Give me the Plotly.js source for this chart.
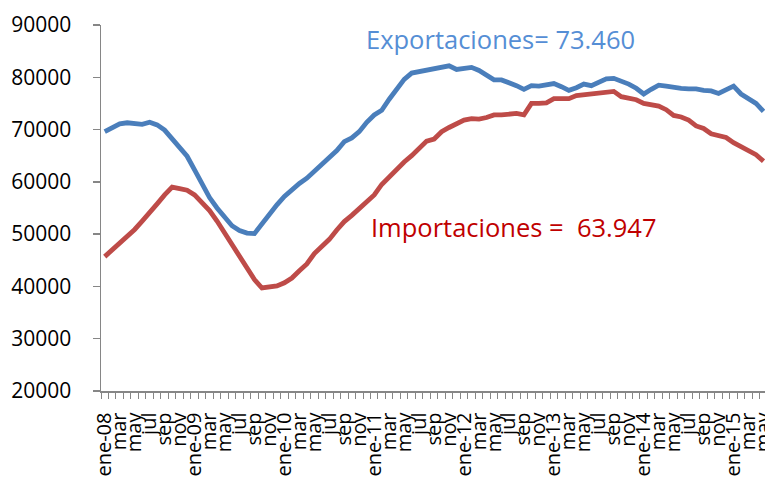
<!DOCTYPE html>
<html>
<head>
<meta charset="utf-8">
<script src="https://cdn.plot.ly/plotly-3.0.1.min.js"></script>
<style>
  html, body { margin: 0; padding: 0; background: #ffffff; }
  #chart { width: 765px; height: 480px; }
</style>
</head>
<body>
<div id="chart"></div>
<script>
// Months: ene-08 .. may-15 (monthly)
const monthNames = ["ene","feb","mar","abr","may","jun","jul","ago","sep","oct","nov","dic"];
const years = ["08","09","10","11","12","13","14","15"];
const months = [];
for (let y = 0; y < years.length; y++) {
  for (let m = 0; m < 12; m++) {
    if (y === years.length - 1 && m > 4) break;
    months.push(m === 0 ? monthNames[m] + "-" + years[y] : monthNames[m]);
  }
}

const exportaciones = [
  69600, 70400, 71100, 71300, 71200, 71000, 71400, 70900, 69900, 68300,
  66500, 64900, 62300, 59400, 57000, 55000, 53200, 51600, 50700, 50200,
  50100, 52000, 54000, 55600, 57200, 58500, 59700, 60700, 62000, 63200,
  64400, 66000, 67700, 68400, 69600, 71400, 72800, 73700, 75800, 77700,
  79600, 80800, 81100, 81300, 81700, 82000, 82200, 81500, 81600, 81900,
  81300, 80500, 79500, 79500, 79000, 78400, 77700, 78400, 78300, 78500,
  78800, 78200, 77500, 78000, 78700, 78400, 79100, 79700, 79800, 79300,
  78700, 77900, 76800, 77700, 78500, 78300, 78000, 77900, 77800, 77800,
  77500, 77400, 76900, 77700, 78300, 76800, 75800, 75000, 73460
];

const importaciones = [
  45700, 47000, 48100, 49700, 50900, 52500, 54300, 55800, 57500, 59000,
  58700, 58400, 57500, 56000, 54500, 52500, 50200, 48100, 45900, 43700,
  41300, 39700, 39800, 40100, 40700, 41600, 43000, 44300, 46300, 47600,
  49000, 50800, 52400, 53600, 54900, 56000, 57500, 59500, 61000, 62400,
  63800, 65000, 66300, 67800, 68200, 69600, 70400, 71200, 71800, 72100,
  72000, 72300, 72800, 72800, 72900, 73100, 72800, 75000, 75000, 75100,
  75900, 76000, 75900, 76500, 76700, 76900, 77100, 77300, 77300, 76300,
  75900, 75700, 75000, 74700, 74500, 73800, 72700, 72400, 71800, 70700,
  70200, 69200, 68800, 68500, 67500, 66700, 66100, 65200, 63947
];

const labelExport = "Exportaciones= 73.460";
const labelImport = "Importaciones =  63.947";

const idx = months.map((_, i) => i);
const labelVals = idx.filter(i => i % 2 === 0);
const labelText = labelVals.map(i => months[i]);

const font = "'Open Sans', 'DejaVu Sans', sans-serif";
const axisColor = "#868686";

const traces = [
  { x: idx, y: exportaciones, type: "scatter", mode: "lines",
    line: { color: "#4A7EBB", width: 4.8 }, name: "Exportaciones", hoverinfo: "skip" },
  { x: idx, y: importaciones, type: "scatter", mode: "lines",
    line: { color: "#BE4B48", width: 4.8 }, name: "Importaciones", hoverinfo: "skip" }
];

const layout = {
  width: 765, height: 480,
  margin: { l: 101, r: 0, t: 25, b: 89 },
  paper_bgcolor: "#ffffff", plot_bgcolor: "#ffffff",
  showlegend: false,
  font: { family: font, color: "#000000" },
  xaxis: {
    range: [-0.5, 88.2],
    tickmode: "array", tickvals: labelVals, ticktext: labelText,
    tickangle: -90, ticks: "", ticklen: 0,
    ticklabelstandoff: 12,
    ticklabeloverflow: "allow",
    tickfont: { family: font, size: 20, color: "#000000" },
    showgrid: false, zeroline: false,
    showline: true, linecolor: axisColor, linewidth: 1.5,
    minor: { tickmode: "linear", tick0: -0.5, dtick: 1, ticks: "outside",
             ticklen: 6, tickcolor: axisColor, tickwidth: 1, showgrid: false }
  },
  yaxis: {
    range: [20000, 90000], tickmode: "linear", tick0: 20000, dtick: 10000,
    tickformat: "d",
    ticks: "outside", ticklen: 7, tickcolor: axisColor, tickwidth: 1.5,
    ticklabelstandoff: 17,
    tickfont: { family: font, size: 21, color: "#000000" },
    showgrid: false, zeroline: false,
    showline: true, linecolor: axisColor, linewidth: 1.5
  },
  annotations: [
    { x: 34.6, y: 87300, xref: "x", yref: "y", xanchor: "left", yanchor: "middle",
      text: labelExport, showarrow: false,
      font: { family: font, size: 25.5, color: "#558ED5" } },
    { x: 35.3, y: 51300, xref: "x", yref: "y", xanchor: "left", yanchor: "middle",
      text: labelImport, showarrow: false,
      font: { family: font, size: 25.5, color: "#C00000" } }
  ]
};

Plotly.newPlot("chart", traces, layout, { staticPlot: true, displayModeBar: false });
</script>
</body>
</html>
